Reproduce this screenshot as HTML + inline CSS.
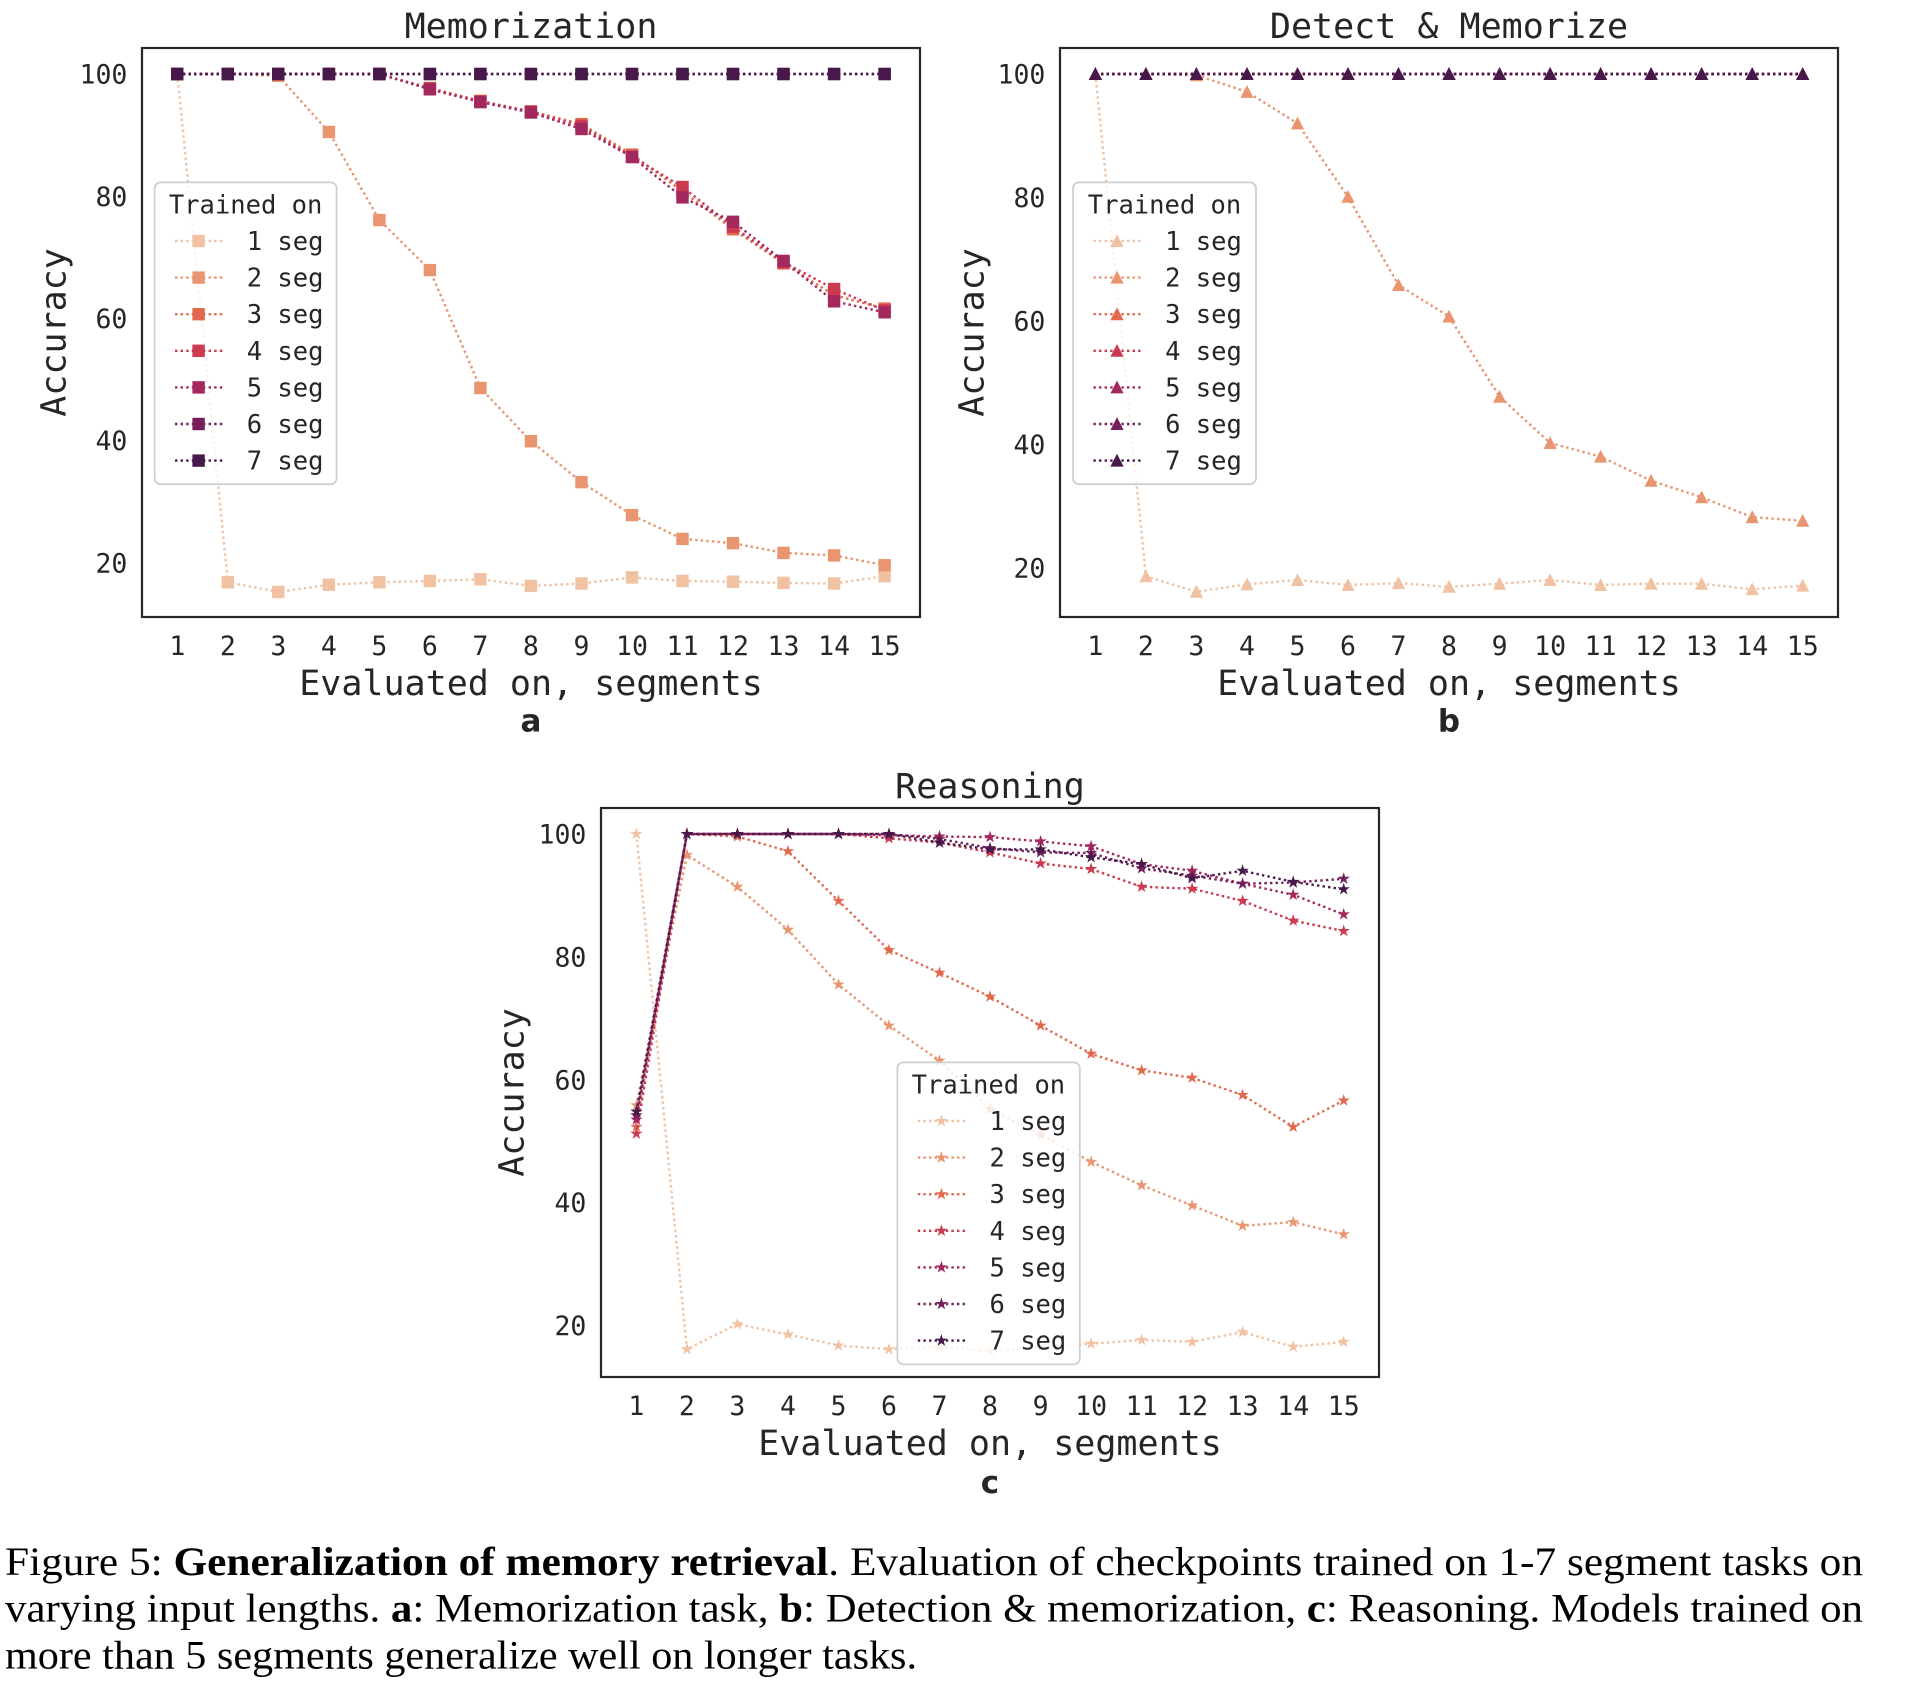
<!DOCTYPE html>
<html>
<head>
<meta charset="utf-8">
<style>
html,body{margin:0;padding:0;background:#fff;}
svg{display:block;}
.t{font-family:"DejaVu Sans Mono","Liberation Mono",monospace;fill:#262626;}
.tk{font-size:26.5px;}
.lab{font-size:35px;}
.lg{font-size:25.5px;}
.pl{font-family:"DejaVu Sans","Liberation Sans",sans-serif;font-weight:bold;font-size:31px;fill:#262626;}
.s{fill:none;stroke-width:2.4;stroke-dasharray:2.4 3.2;}
.cap{font-family:"Liberation Serif","Times New Roman",serif;font-size:40px;fill:#000;}
</style>
</head>
<body>
<svg width="1922" height="1688" viewBox="0 0 1922 1688" xmlns="http://www.w3.org/2000/svg">
<defs>
<path id="pS" d="M-6.2,-6.2h12.4v12.4h-12.4z"/>
<path id="pT" d="M0,-6.8L6.6,6L-6.6,6z"/>
<path id="pR" d="M0,-6.5L1.46,-2.01L6.18,-2.01L2.36,0.77L3.82,5.26L0,2.48L-3.82,5.26L-2.36,0.77L-6.18,-2.01L-1.46,-2.01z"/>

<marker id="S1" markerUnits="userSpaceOnUse" viewBox="-8 -8 16 16" markerWidth="16" markerHeight="16"><use href="#pS" fill="#F0C2A2"/></marker>
<marker id="S2" markerUnits="userSpaceOnUse" viewBox="-8 -8 16 16" markerWidth="16" markerHeight="16"><use href="#pS" fill="#E9956F"/></marker>
<marker id="S3" markerUnits="userSpaceOnUse" viewBox="-8 -8 16 16" markerWidth="16" markerHeight="16"><use href="#pS" fill="#E2694D"/></marker>
<marker id="S4" markerUnits="userSpaceOnUse" viewBox="-8 -8 16 16" markerWidth="16" markerHeight="16"><use href="#pS" fill="#CB3A4E"/></marker>
<marker id="S5" markerUnits="userSpaceOnUse" viewBox="-8 -8 16 16" markerWidth="16" markerHeight="16"><use href="#pS" fill="#A3285D"/></marker>
<marker id="S6" markerUnits="userSpaceOnUse" viewBox="-8 -8 16 16" markerWidth="16" markerHeight="16"><use href="#pS" fill="#74205A"/></marker>
<marker id="S7" markerUnits="userSpaceOnUse" viewBox="-8 -8 16 16" markerWidth="16" markerHeight="16"><use href="#pS" fill="#47194A"/></marker>

<marker id="T1" markerUnits="userSpaceOnUse" viewBox="-8 -8 16 16" markerWidth="16" markerHeight="16"><use href="#pT" fill="#F0C2A2"/></marker>
<marker id="T2" markerUnits="userSpaceOnUse" viewBox="-8 -8 16 16" markerWidth="16" markerHeight="16"><use href="#pT" fill="#E9956F"/></marker>
<marker id="T3" markerUnits="userSpaceOnUse" viewBox="-8 -8 16 16" markerWidth="16" markerHeight="16"><use href="#pT" fill="#E2694D"/></marker>
<marker id="T4" markerUnits="userSpaceOnUse" viewBox="-8 -8 16 16" markerWidth="16" markerHeight="16"><use href="#pT" fill="#CB3A4E"/></marker>
<marker id="T5" markerUnits="userSpaceOnUse" viewBox="-8 -8 16 16" markerWidth="16" markerHeight="16"><use href="#pT" fill="#A3285D"/></marker>
<marker id="T6" markerUnits="userSpaceOnUse" viewBox="-8 -8 16 16" markerWidth="16" markerHeight="16"><use href="#pT" fill="#74205A"/></marker>
<marker id="T7" markerUnits="userSpaceOnUse" viewBox="-8 -8 16 16" markerWidth="16" markerHeight="16"><use href="#pT" fill="#47194A"/></marker>

<marker id="R1" markerUnits="userSpaceOnUse" viewBox="-8 -8 16 16" markerWidth="16" markerHeight="16"><use href="#pR" fill="#F0C2A2"/></marker>
<marker id="R2" markerUnits="userSpaceOnUse" viewBox="-8 -8 16 16" markerWidth="16" markerHeight="16"><use href="#pR" fill="#E9956F"/></marker>
<marker id="R3" markerUnits="userSpaceOnUse" viewBox="-8 -8 16 16" markerWidth="16" markerHeight="16"><use href="#pR" fill="#E2694D"/></marker>
<marker id="R4" markerUnits="userSpaceOnUse" viewBox="-8 -8 16 16" markerWidth="16" markerHeight="16"><use href="#pR" fill="#CB3A4E"/></marker>
<marker id="R5" markerUnits="userSpaceOnUse" viewBox="-8 -8 16 16" markerWidth="16" markerHeight="16"><use href="#pR" fill="#A3285D"/></marker>
<marker id="R6" markerUnits="userSpaceOnUse" viewBox="-8 -8 16 16" markerWidth="16" markerHeight="16"><use href="#pR" fill="#74205A"/></marker>
<marker id="R7" markerUnits="userSpaceOnUse" viewBox="-8 -8 16 16" markerWidth="16" markerHeight="16"><use href="#pR" fill="#47194A"/></marker>
</defs>

<rect width="1922" height="1688" fill="#fff"/>

<!-- ================= Plot a: Memorization ================= -->
<text class="t lab" x="531" y="38" text-anchor="middle">Memorization</text>
<g class="s">
<polyline stroke="#F0C2A2" marker-start="url(#S1)" marker-mid="url(#S1)" marker-end="url(#S1)" points="177.3,74 227.8,582.3 278.3,592 328.9,584.7 379.4,582.3 429.9,581 480.4,579.2 530.9,585.9 581.5,583.5 632,577.4 682.5,581 733,581.7 783.5,582.9 834.1,583.5 884.6,576.2"/>
<polyline stroke="#E9956F" marker-start="url(#S2)" marker-mid="url(#S2)" marker-end="url(#S2)" points="177.3,74 227.8,74 278.3,75.8 328.9,132 379.4,220 429.9,270.1 480.4,388 530.9,441.2 581.5,482.1 632,515.1 682.5,538.9 733,543.2 783.5,552.9 834.1,555.4 884.6,565.2"/>
<polyline stroke="#E2694D" marker-start="url(#S3)" marker-mid="url(#S3)" marker-end="url(#S3)" points="177.3,74 227.8,74 278.3,74 328.9,74 379.4,74 429.9,88 480.4,100.9 530.9,111.3 581.5,124.1 632,154.6 682.5,191.3 733,229.2 783.5,263.4 834.1,295.1 884.6,308.6"/>
<polyline stroke="#CB3A4E" marker-start="url(#S4)" marker-mid="url(#S4)" marker-end="url(#S4)" points="177.3,74 227.8,74 278.3,74 328.9,74 379.4,74 429.9,88.7 480.4,101.5 530.9,111.9 581.5,125.9 632,156.5 682.5,187 733,226.7 783.5,262.2 834.1,289 884.6,310.4"/>
<polyline stroke="#A3285D" marker-start="url(#S5)" marker-mid="url(#S5)" marker-end="url(#S5)" points="177.3,74 227.8,74 278.3,74 328.9,74 379.4,74 429.9,89.3 480.4,102.1 530.9,112.5 581.5,129 632,157.1 682.5,197.4 733,221.8 783.5,260.9 834.1,301.3 884.6,312.3"/>
<polyline stroke="#74205A" marker-start="url(#S6)" marker-mid="url(#S6)" marker-end="url(#S6)" points="177.3,74 227.8,74 278.3,74 328.9,74 379.4,74 429.9,74 480.4,74 530.9,74 581.5,74 632,74 682.5,74 733,74 783.5,74 834.1,74 884.6,74"/>
<polyline stroke="#47194A" marker-start="url(#S7)" marker-mid="url(#S7)" marker-end="url(#S7)" points="177.3,74 227.8,74 278.3,74 328.9,74 379.4,74 429.9,74 480.4,74 530.9,74 581.5,74 632,74 682.5,74 733,74 783.5,74 834.1,74 884.6,74"/>
</g>
<rect x="142" y="48" width="778" height="569" fill="none" stroke="#262626" stroke-width="2.2"/>
<g class="t tk" text-anchor="end">
<text x="127.4" y="83.7">100</text>
<text x="127.4" y="205.9">80</text>
<text x="127.4" y="328.1">60</text>
<text x="127.4" y="450.2">40</text>
<text x="127.4" y="572.4">20</text>
</g>
<g class="t tk" text-anchor="middle">
<text x="177.3" y="655">1</text><text x="227.8" y="655">2</text><text x="278.3" y="655">3</text><text x="328.9" y="655">4</text><text x="379.4" y="655">5</text><text x="429.9" y="655">6</text><text x="480.4" y="655">7</text><text x="530.9" y="655">8</text><text x="581.5" y="655">9</text><text x="632" y="655">10</text><text x="682.5" y="655">11</text><text x="733" y="655">12</text><text x="783.5" y="655">13</text><text x="834.1" y="655">14</text><text x="884.6" y="655">15</text>
</g>
<text class="t lab" x="531" y="695" text-anchor="middle">Evaluated on, segments</text>
<text class="t lab" transform="translate(65.5,332.5) rotate(-90)" text-anchor="middle">Accuracy</text>
<text class="pl" x="531" y="731.7" text-anchor="middle">a</text>
<!-- legend a -->
<rect x="154.6" y="182.4" width="182" height="301.8" rx="6" fill="#fff" fill-opacity="0.8" stroke="#cfcfcf" stroke-width="1.8"/>
<text class="t lg" x="245.6" y="213.3" text-anchor="middle">Trained on</text>
<g class="s">
<line x1="175" y1="241" x2="225" y2="241" stroke="#F0C2A2"/>
<line x1="175" y1="277.6" x2="225" y2="277.6" stroke="#E9956F"/>
<line x1="175" y1="314.2" x2="225" y2="314.2" stroke="#E2694D"/>
<line x1="175" y1="350.8" x2="225" y2="350.8" stroke="#CB3A4E"/>
<line x1="175" y1="387.4" x2="225" y2="387.4" stroke="#A3285D"/>
<line x1="175" y1="424" x2="225" y2="424" stroke="#74205A"/>
<line x1="175" y1="460.6" x2="225" y2="460.6" stroke="#47194A"/>
</g>
<use href="#pS" x="198.6" y="241" fill="#F0C2A2"/>
<use href="#pS" x="198.6" y="277.6" fill="#E9956F"/>
<use href="#pS" x="198.6" y="314.2" fill="#E2694D"/>
<use href="#pS" x="198.6" y="350.8" fill="#CB3A4E"/>
<use href="#pS" x="198.6" y="387.4" fill="#A3285D"/>
<use href="#pS" x="198.6" y="424" fill="#74205A"/>
<use href="#pS" x="198.6" y="460.6" fill="#47194A"/>
<g class="t lg">
<text x="246.7" y="250">1 seg</text>
<text x="246.7" y="286.6">2 seg</text>
<text x="246.7" y="323.2">3 seg</text>
<text x="246.7" y="359.8">4 seg</text>
<text x="246.7" y="396.4">5 seg</text>
<text x="246.7" y="433">6 seg</text>
<text x="246.7" y="469.6">7 seg</text>
</g>

<!-- ================= Plot b: Detect & Memorize ================= -->
<text class="t lab" x="1449" y="38" text-anchor="middle">Detect &amp; Memorize</text>
<g class="s">
<polyline stroke="#F0C2A2" marker-start="url(#T1)" marker-mid="url(#T1)" marker-end="url(#T1)" points="1095.4,74 1145.9,576.3 1196.4,591.7 1247,584.3 1297.5,580 1348,585 1398.5,583.1 1449,586.8 1499.6,583.7 1550.1,580 1600.6,585 1651.1,583.7 1701.6,583.7 1752.2,589.3 1802.7,585.6"/>
<polyline stroke="#E9956F" marker-start="url(#T2)" marker-mid="url(#T2)" marker-end="url(#T2)" points="1095.4,74 1145.9,74 1196.4,75.2 1247,91.9 1297.5,123.4 1348,196.8 1398.5,285 1449,316.5 1499.6,396.7 1550.1,443 1600.6,456.6 1651.1,480.7 1701.6,497.3 1752.2,517.1 1802.7,520.8"/>
<polyline stroke="#E2694D" marker-start="url(#T3)" marker-mid="url(#T3)" marker-end="url(#T3)" points="1095.4,74 1145.9,74 1196.4,74 1247,74 1297.5,74 1348,74 1398.5,74 1449,74 1499.6,74 1550.1,74 1600.6,74 1651.1,74 1701.6,74 1752.2,74 1802.7,74"/>
<polyline stroke="#CB3A4E" marker-start="url(#T4)" marker-mid="url(#T4)" marker-end="url(#T4)" points="1095.4,74 1145.9,74 1196.4,74 1247,74 1297.5,74 1348,74 1398.5,74 1449,74 1499.6,74 1550.1,74 1600.6,74 1651.1,74 1701.6,74 1752.2,74 1802.7,74"/>
<polyline stroke="#A3285D" marker-start="url(#T5)" marker-mid="url(#T5)" marker-end="url(#T5)" points="1095.4,74 1145.9,74 1196.4,74 1247,74 1297.5,74 1348,74 1398.5,74 1449,74 1499.6,74 1550.1,74 1600.6,74 1651.1,74 1701.6,74 1752.2,74 1802.7,74"/>
<polyline stroke="#74205A" marker-start="url(#T6)" marker-mid="url(#T6)" marker-end="url(#T6)" points="1095.4,74 1145.9,74 1196.4,74 1247,74 1297.5,74 1348,74 1398.5,74 1449,74 1499.6,74 1550.1,74 1600.6,74 1651.1,74 1701.6,74 1752.2,74 1802.7,74"/>
<polyline stroke="#47194A" marker-start="url(#T7)" marker-mid="url(#T7)" marker-end="url(#T7)" points="1095.4,74 1145.9,74 1196.4,74 1247,74 1297.5,74 1348,74 1398.5,74 1449,74 1499.6,74 1550.1,74 1600.6,74 1651.1,74 1701.6,74 1752.2,74 1802.7,74"/>
</g>
<rect x="1060" y="48" width="778" height="569" fill="none" stroke="#262626" stroke-width="2.2"/>
<g class="t tk" text-anchor="end">
<text x="1045.4" y="83.7">100</text>
<text x="1045.4" y="207.1">80</text>
<text x="1045.4" y="330.5">60</text>
<text x="1045.4" y="454">40</text>
<text x="1045.4" y="577.4">20</text>
</g>
<g class="t tk" text-anchor="middle">
<text x="1095.4" y="655">1</text><text x="1145.9" y="655">2</text><text x="1196.4" y="655">3</text><text x="1247" y="655">4</text><text x="1297.5" y="655">5</text><text x="1348" y="655">6</text><text x="1398.5" y="655">7</text><text x="1449" y="655">8</text><text x="1499.6" y="655">9</text><text x="1550.1" y="655">10</text><text x="1600.6" y="655">11</text><text x="1651.1" y="655">12</text><text x="1701.6" y="655">13</text><text x="1752.2" y="655">14</text><text x="1802.7" y="655">15</text>
</g>
<text class="t lab" x="1449" y="695" text-anchor="middle">Evaluated on, segments</text>
<text class="t lab" transform="translate(983.5,332.5) rotate(-90)" text-anchor="middle">Accuracy</text>
<text class="pl" x="1449" y="731.7" text-anchor="middle">b</text>
<!-- legend b -->
<rect x="1073" y="182.4" width="183" height="301.8" rx="6" fill="#fff" fill-opacity="0.8" stroke="#cfcfcf" stroke-width="1.8"/>
<text class="t lg" x="1164.5" y="213.3" text-anchor="middle">Trained on</text>
<g class="s">
<line x1="1093.4" y1="241" x2="1143.4" y2="241" stroke="#F0C2A2"/>
<line x1="1093.4" y1="277.6" x2="1143.4" y2="277.6" stroke="#E9956F"/>
<line x1="1093.4" y1="314.2" x2="1143.4" y2="314.2" stroke="#E2694D"/>
<line x1="1093.4" y1="350.8" x2="1143.4" y2="350.8" stroke="#CB3A4E"/>
<line x1="1093.4" y1="387.4" x2="1143.4" y2="387.4" stroke="#A3285D"/>
<line x1="1093.4" y1="424" x2="1143.4" y2="424" stroke="#74205A"/>
<line x1="1093.4" y1="460.6" x2="1143.4" y2="460.6" stroke="#47194A"/>
</g>
<use href="#pT" x="1117" y="241" fill="#F0C2A2"/>
<use href="#pT" x="1117" y="277.6" fill="#E9956F"/>
<use href="#pT" x="1117" y="314.2" fill="#E2694D"/>
<use href="#pT" x="1117" y="350.8" fill="#CB3A4E"/>
<use href="#pT" x="1117" y="387.4" fill="#A3285D"/>
<use href="#pT" x="1117" y="424" fill="#74205A"/>
<use href="#pT" x="1117" y="460.6" fill="#47194A"/>
<g class="t lg">
<text x="1165.1" y="250">1 seg</text>
<text x="1165.1" y="286.6">2 seg</text>
<text x="1165.1" y="323.2">3 seg</text>
<text x="1165.1" y="359.8">4 seg</text>
<text x="1165.1" y="396.4">5 seg</text>
<text x="1165.1" y="433">6 seg</text>
<text x="1165.1" y="469.6">7 seg</text>
</g>

<!-- ================= Plot c: Reasoning ================= -->
<text class="t lab" x="990" y="798" text-anchor="middle">Reasoning</text>
<g class="s">
<polyline stroke="#F0C2A2" marker-start="url(#R1)" marker-mid="url(#R1)" marker-end="url(#R1)" points="636.4,834 686.9,1349.2 737.4,1324.1 788,1334.5 838.5,1345.5 889,1349.2 939.5,1346.8 990,1351.1 1040.6,1347.4 1091.1,1343.7 1141.6,1340 1192.1,1341.9 1242.6,1332 1293.2,1346.8 1343.7,1341.9"/>
<polyline stroke="#E9956F" marker-start="url(#R2)" marker-mid="url(#R2)" marker-end="url(#R2)" points="636.4,1105.4 686.9,854.9 737.4,886.8 788,929.8 838.5,984.5 889,1025.6 939.5,1060.6 990,1109.1 1040.6,1134.9 1091.1,1161.9 1141.6,1185.3 1192.1,1205.5 1242.6,1225.8 1293.2,1222.1 1343.7,1234.4"/>
<polyline stroke="#E2694D" marker-start="url(#R3)" marker-mid="url(#R3)" marker-end="url(#R3)" points="636.4,1126.9 686.9,834 737.4,836.5 788,851.2 838.5,900.9 889,950.1 939.5,972.8 990,996.7 1040.6,1025.6 1091.1,1053.8 1141.6,1070.4 1192.1,1077.8 1242.6,1095 1293.2,1126.9 1343.7,1100.5"/>
<polyline stroke="#CB3A4E" marker-start="url(#R4)" marker-mid="url(#R4)" marker-end="url(#R4)" points="636.4,1133.7 686.9,834 737.4,834 788,834 838.5,834 889,838.3 939.5,842.6 990,852.4 1040.6,863.5 1091.1,869 1141.6,886.8 1192.1,888.7 1242.6,900.9 1293.2,920.6 1343.7,931"/>
<polyline stroke="#A3285D" marker-start="url(#R5)" marker-mid="url(#R5)" marker-end="url(#R5)" points="636.4,1119.6 686.9,834 737.4,834 788,834 838.5,834 889,835.2 939.5,836.5 990,837.1 1040.6,841.4 1091.1,846.3 1141.6,864.1 1192.1,870.8 1242.6,883.7 1293.2,894.8 1343.7,914.4"/>
<polyline stroke="#74205A" marker-start="url(#R6)" marker-mid="url(#R6)" marker-end="url(#R6)" points="636.4,1115.3 686.9,834 737.4,834 788,834 838.5,834 889,834 939.5,838.9 990,848.1 1040.6,852.4 1091.1,853 1141.6,868.4 1192.1,875.7 1242.6,883.7 1293.2,882.5 1343.7,878.8"/>
<polyline stroke="#47194A" marker-start="url(#R7)" marker-mid="url(#R7)" marker-end="url(#R7)" points="636.4,1111.6 686.9,834 737.4,834 788,834 838.5,834 889,834 939.5,842.6 990,849.4 1040.6,849.4 1091.1,857.3 1141.6,864.1 1192.1,878.2 1242.6,870.8 1293.2,881.9 1343.7,889.3"/>
</g>
<rect x="601" y="808" width="778" height="569" fill="none" stroke="#262626" stroke-width="2.2"/>
<g class="t tk" text-anchor="end">
<text x="586.4" y="843.7">100</text>
<text x="586.4" y="966.5">80</text>
<text x="586.4" y="1089.3">60</text>
<text x="586.4" y="1212.2">40</text>
<text x="586.4" y="1335">20</text>
</g>
<g class="t tk" text-anchor="middle">
<text x="636.4" y="1415">1</text><text x="686.9" y="1415">2</text><text x="737.4" y="1415">3</text><text x="788" y="1415">4</text><text x="838.5" y="1415">5</text><text x="889" y="1415">6</text><text x="939.5" y="1415">7</text><text x="990" y="1415">8</text><text x="1040.6" y="1415">9</text><text x="1091.1" y="1415">10</text><text x="1141.6" y="1415">11</text><text x="1192.1" y="1415">12</text><text x="1242.6" y="1415">13</text><text x="1293.2" y="1415">14</text><text x="1343.7" y="1415">15</text>
</g>
<text class="t lab" x="990" y="1455" text-anchor="middle">Evaluated on, segments</text>
<text class="t lab" transform="translate(523.5,1092.5) rotate(-90)" text-anchor="middle">Accuracy</text>
<text class="pl" x="990" y="1493" text-anchor="middle">c</text>
<!-- legend c -->
<rect x="897.4" y="1062.4" width="182.4" height="302" rx="6" fill="#fff" fill-opacity="0.8" stroke="#cfcfcf" stroke-width="1.8"/>
<text class="t lg" x="988.4" y="1093.3" text-anchor="middle">Trained on</text>
<g class="s">
<line x1="917.8" y1="1121" x2="967.8" y2="1121" stroke="#F0C2A2"/>
<line x1="917.8" y1="1157.6" x2="967.8" y2="1157.6" stroke="#E9956F"/>
<line x1="917.8" y1="1194.2" x2="967.8" y2="1194.2" stroke="#E2694D"/>
<line x1="917.8" y1="1230.8" x2="967.8" y2="1230.8" stroke="#CB3A4E"/>
<line x1="917.8" y1="1267.4" x2="967.8" y2="1267.4" stroke="#A3285D"/>
<line x1="917.8" y1="1304" x2="967.8" y2="1304" stroke="#74205A"/>
<line x1="917.8" y1="1340.6" x2="967.8" y2="1340.6" stroke="#47194A"/>
</g>
<use href="#pR" x="941.4" y="1121" fill="#F0C2A2"/>
<use href="#pR" x="941.4" y="1157.6" fill="#E9956F"/>
<use href="#pR" x="941.4" y="1194.2" fill="#E2694D"/>
<use href="#pR" x="941.4" y="1230.8" fill="#CB3A4E"/>
<use href="#pR" x="941.4" y="1267.4" fill="#A3285D"/>
<use href="#pR" x="941.4" y="1304" fill="#74205A"/>
<use href="#pR" x="941.4" y="1340.6" fill="#47194A"/>
<g class="t lg">
<text x="989.5" y="1130">1 seg</text>
<text x="989.5" y="1166.6">2 seg</text>
<text x="989.5" y="1203.2">3 seg</text>
<text x="989.5" y="1239.8">4 seg</text>
<text x="989.5" y="1276.4">5 seg</text>
<text x="989.5" y="1313">6 seg</text>
<text x="989.5" y="1349.6">7 seg</text>
</g>

<!-- ================= Caption ================= -->
<text class="cap" x="5" y="1575" textLength="1858" lengthAdjust="spacingAndGlyphs">Figure 5: <tspan font-weight="bold">Generalization of memory retrieval</tspan>. Evaluation of checkpoints trained on 1-7 segment tasks on</text>
<text class="cap" x="5" y="1621.7" textLength="1858" lengthAdjust="spacingAndGlyphs">varying input lengths. <tspan font-weight="bold">a</tspan>: Memorization task, <tspan font-weight="bold">b</tspan>: Detection &amp; memorization, <tspan font-weight="bold">c</tspan>: Reasoning. Models trained on</text>
<text class="cap" x="5" y="1668.3" textLength="912" lengthAdjust="spacingAndGlyphs">more than 5 segments generalize well on longer tasks.</text>
</svg>
</body>
</html>
